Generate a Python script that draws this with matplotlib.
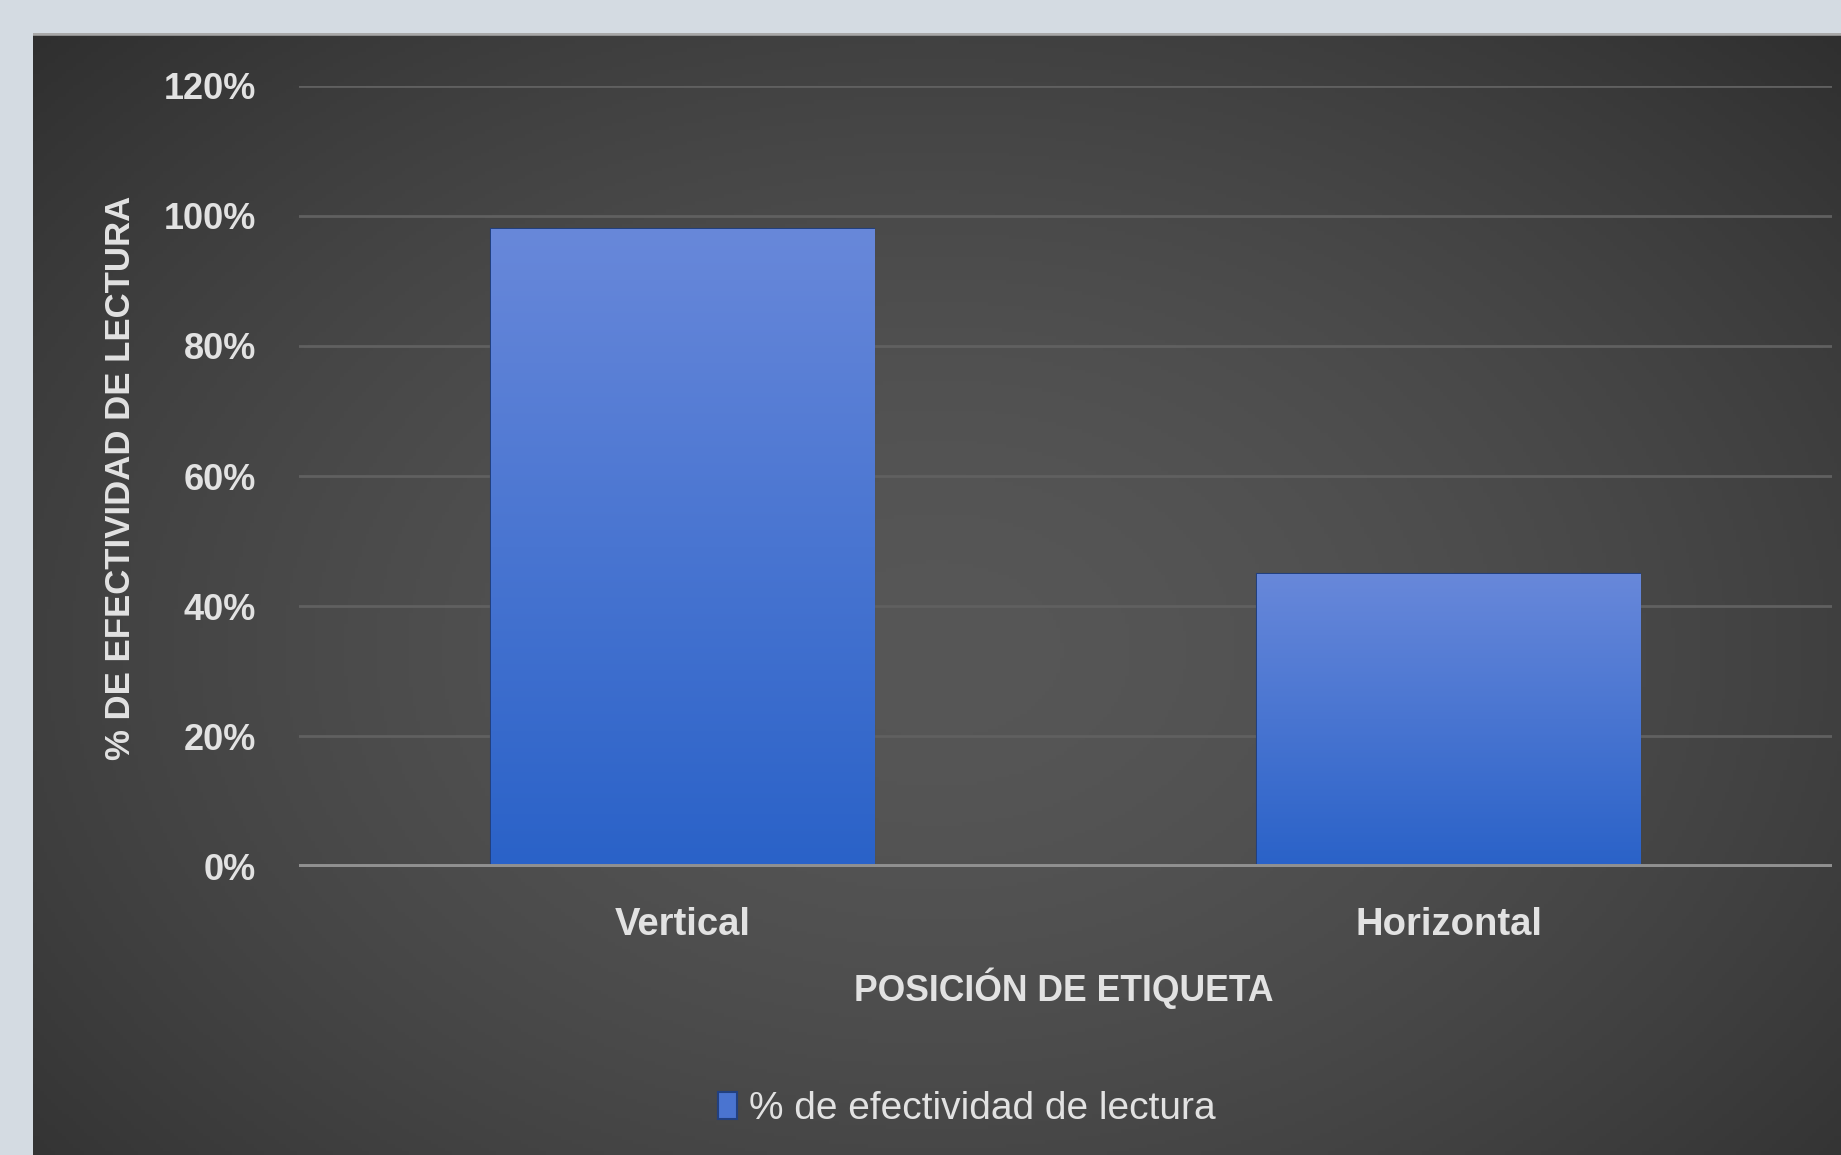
import matplotlib
matplotlib.use('Agg')
import matplotlib.pyplot as plt
import numpy as np

# ---- data ----
categories = ['Vertical', 'Horizontal']
values = [98, 45]
yticks = [0, 20, 40, 60, 80, 100, 120]
ytick_labels = ['0%', '20%', '40%', '60%', '80%', '100%', '120%']
ylabel = '% DE EFECTIVIDAD DE LECTURA'
xlabel = 'POSICIÓN DE ETIQUETA'
series_name = '% de efectividad de lectura'

plt.rcParams['font.family'] = ['Liberation Sans', 'DejaVu Sans']

W, H = 1841, 1155
fig = plt.figure(figsize=(W / 100, H / 100), dpi=100)
fig.patch.set_facecolor('#d4dbe2')

# ---- dark panel with radial gradient ----
px0, py0 = 33, 33
bg = fig.add_axes([px0 / W, 0, 1 - px0 / W, 1 - py0 / H])
ny, nx = 300, 500
yy, xx = np.mgrid[0:1:ny * 1j, 0:1:nx * 1j]
d = np.sqrt(((xx - 0.5) / 0.75) ** 2 + ((yy - 0.55) / 0.85) ** 2)
lum = 0x57 - (0x57 - 0x2a) * np.clip(d, 0, 1) ** 1.6
img = np.dstack([lum, lum, lum]) / 255.0
bg.imshow(img, extent=[0, 1, 0, 1], aspect='auto', origin='upper')
bg.set_xlim(0, 1)
bg.set_ylim(0, 1)
bg.axis('off')
bg.axhline(1, color='#a8a8a8', lw=4, zorder=5)

# ---- main axes ----
ax = fig.add_axes([299 / W, 1 - 866.5 / H, (1832 - 299) / W, (866.5 - 85.7) / H])
ax.patch.set_alpha(0)
x = np.arange(len(categories))
bars = ax.bar(x, values, width=0.5, color='#4a74d0', edgecolor='#22407f',
              linewidth=1.5, zorder=2)

top_c = np.array([0x68, 0x88, 0xda]) / 255
bot_c = np.array([0x2a, 0x62, 0xc8]) / 255
t = np.linspace(0, 1, 256)[:, None]
grad = (top_c[None, :] * (1 - t) + bot_c[None, :] * t)[:, None, :]
for b in bars:
    x0, w, h = b.get_x(), b.get_width(), b.get_height()
    im = ax.imshow(grad, extent=[x0, x0 + w, 0, h], aspect='auto',
                   origin='upper', zorder=2.1)
    im.set_clip_path(b)

ax.set_xlim(-0.5, len(categories) - 0.5)
ax.set_ylim(0, 120)
ax.set_yticks(yticks)
ax.set_yticklabels(ytick_labels)
ax.set_xticks(x)
ax.set_xticklabels(categories)
for s in ax.spines.values():
    s.set_visible(False)
ax.yaxis.grid(True, color='#606060', lw=2)
ax.set_axisbelow(True)
ax.axhline(0, color='#909090', lw=5, zorder=3)
ax.tick_params(axis='both', length=0, colors='#e2e2e2')
ax.tick_params(axis='y', pad=31, labelsize=26)
ax.tick_params(axis='x', pad=29, labelsize=27.5)
for lab in ax.get_yticklabels() + ax.get_xticklabels():
    lab.set_fontweight('bold')

fig.text(121 / W, 1 - 478 / H, ylabel, rotation=90, ha='center', va='center',
         color='#e2e2e2', fontsize=25, fontweight='bold')
fig.text(1064 / W, 1 - 988 / H, xlabel, ha='center', va='center',
         color='#e2e2e2', fontsize=25.6, fontweight='bold')

leg = ax.legend([bars[0]], [series_name], loc='center left',
                bbox_to_anchor=(718 / W, 1 - 1109 / H),
                bbox_transform=fig.transFigure, frameon=False,
                fontsize=28, handlelength=0.5, handleheight=0.7,
                handletextpad=0.3, borderpad=0, borderaxespad=0)
for txt in leg.get_texts():
    txt.set_color('#e2e2e2')

fig.savefig('out.png', dpi=100, facecolor=fig.get_facecolor())
